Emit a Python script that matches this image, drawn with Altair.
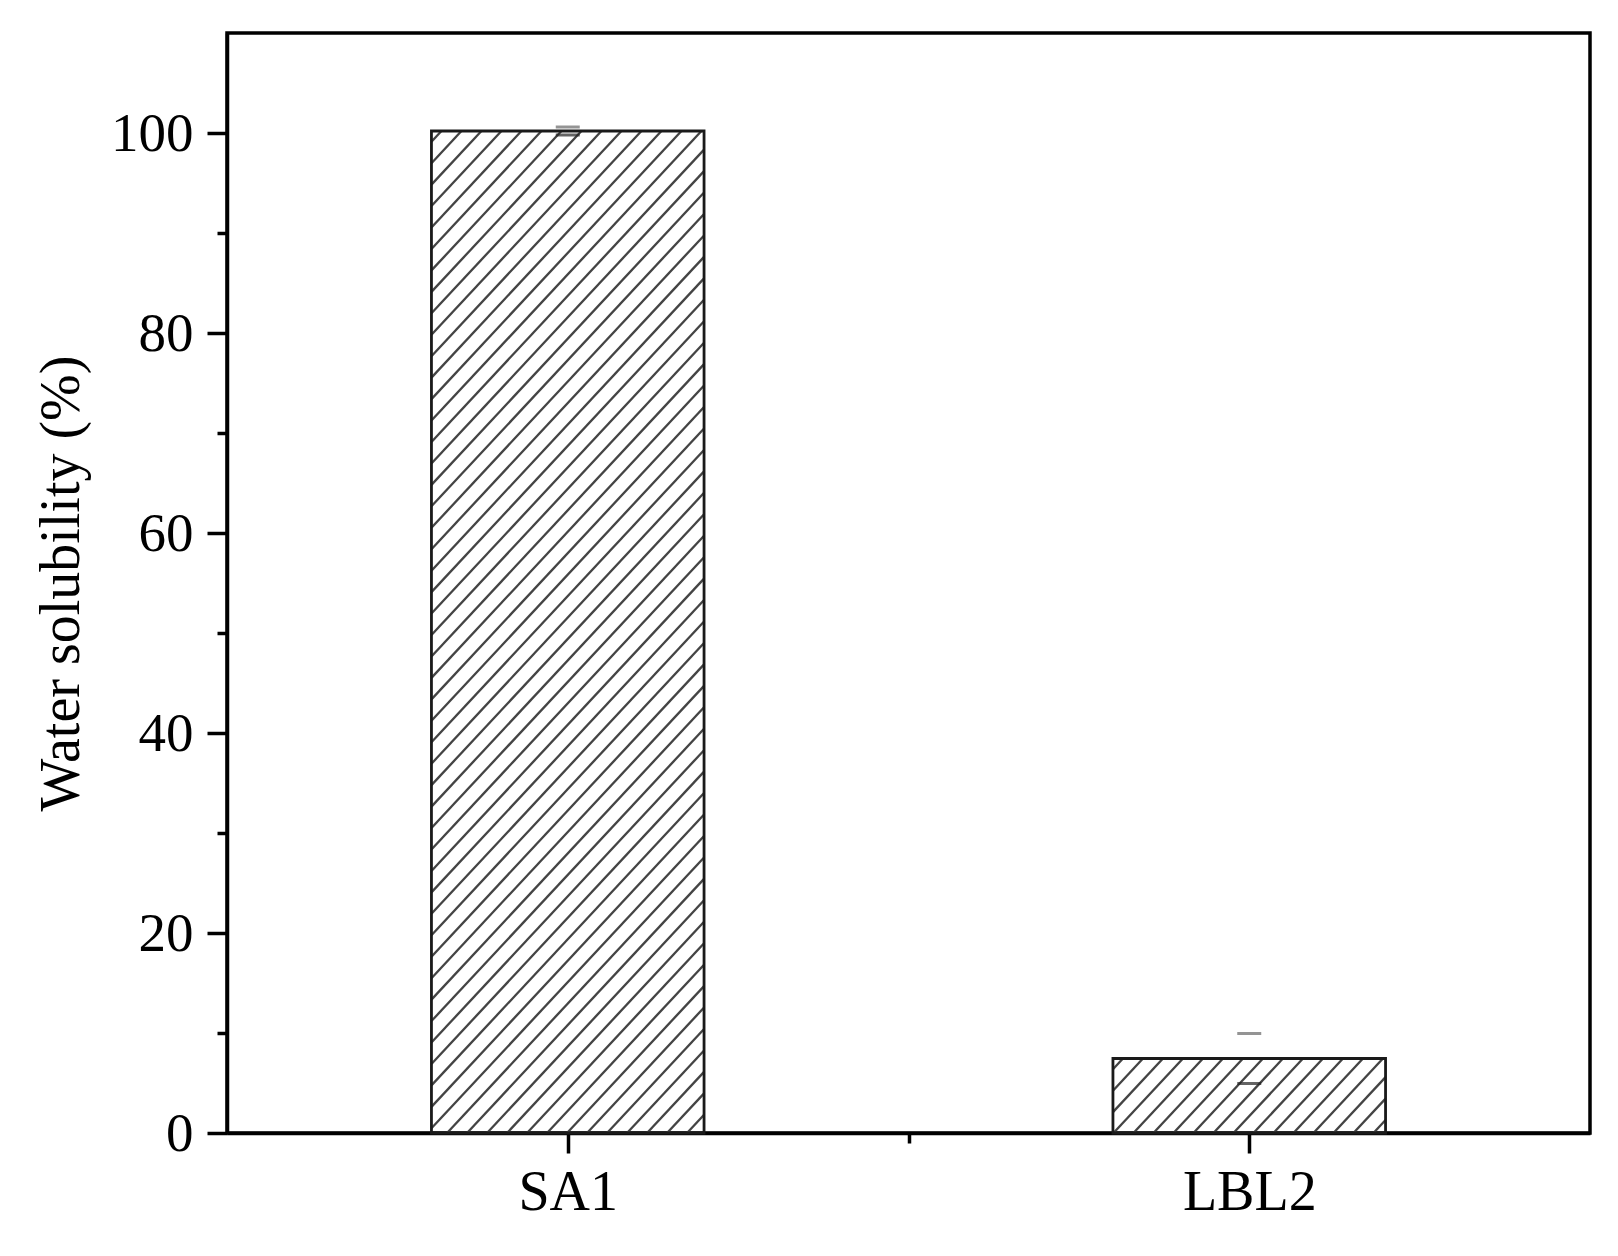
import math
import pandas as pd
import altair as alt

# ---- data ----
categories = ["SA1", "LBL2"]
positions = [1, 2]
values = [100.2, 7.45]
errors = [0.4, 2.5]
y_title = "Water solubility (%)"

# ---- layout constants ----
W, H = 1363, 1100
XDOM = [0.5, 2.5]
YDOM = [0, 110]
HALF = 0.2  # half bar width in x units
kx = W / (XDOM[1] - XDOM[0])
ky = H / (YDOM[1] - YDOM[0])

bar_df = pd.DataFrame({"cat": categories, "pos": positions, "value": values, "err": errors})
bar_df["x0"] = bar_df["pos"] - HALF
bar_df["x1"] = bar_df["pos"] + HALF
bar_df["zero"] = 0.0
bar_df["hi"] = bar_df["value"] + bar_df["err"]
bar_df["lo"] = bar_df["value"] - bar_df["err"]

# hatch pattern ("/" stripes) clipped to each bar, derived from the bar values
tan = math.tan(math.radians(47))
spacing = 20.0
rows = []
for pos, val in zip(positions, values):
    L = (pos - HALF - XDOM[0]) * kx
    R = (pos + HALF - XDOM[0]) * kx
    Ht = val * ky
    c = L - Ht / tan + spacing / 2
    while c < R:
        ylo = max(0.0, (L - c) * tan)
        yhi = min(Ht, (R - c) * tan)
        if yhi > ylo:
            rows.append({
                "hx": XDOM[0] + (c + ylo / tan) / kx,
                "hx2": XDOM[0] + (c + yhi / tan) / kx,
                "hy": ylo / ky,
                "hy2": yhi / ky,
            })
        c += spacing
hatch_df = pd.DataFrame(rows)

xs = alt.Scale(domain=XDOM, nice=False, zero=False)
ys = alt.Scale(domain=YDOM, nice=False)

label_expr_x = " : ".join(
    [f"datum.value == {p} ? '{c}'" for p, c in zip(positions, categories)]
) + " : ''"

xaxis = alt.Axis(
    values=[1, 1.5, 2],
    labelExpr=label_expr_x,
    tickSize={"condition": {"test": "datum.value % 1 === 0", "value": 20}, "value": 10},
    labelPadding=12,
    title=None,
    grid=False,
)
yaxis = alt.Axis(
    values=list(range(0, 101, 10)),
    labelExpr="datum.value % 20 === 0 ? datum.label : ''",
    tickSize={"condition": {"test": "datum.value % 20 === 0", "value": 20}, "value": 10},
    labelPadding=14,
    title=y_title,
    titlePadding=20,
    grid=False,
)


def X(f):
    return alt.X(f, type="quantitative", scale=xs, axis=xaxis)


def Y(f):
    return alt.Y(f, type="quantitative", scale=ys, axis=yaxis)


hatch = alt.Chart(hatch_df).mark_rule(color="#444444", strokeWidth=2.3).encode(
    x=X("hx"), x2="hx2", y=Y("hy"), y2="hy2"
)

outline = alt.Chart(bar_df).mark_rect(
    fillOpacity=0, stroke="#1a1a1a", strokeWidth=2.8
).encode(x=X("x0"), x2="x1", y=Y("value"), y2="zero")

cap_hi = alt.Chart(bar_df).mark_tick(
    orient="horizontal", size=24, thickness=3, color="#666666"
).encode(x=X("pos"), y=Y("hi"))

cap_lo = alt.Chart(bar_df).mark_tick(
    orient="horizontal", size=24, thickness=3, color="#222222"
).encode(x=X("pos"), y=Y("lo"))

chart = (
    alt.layer(hatch, outline, cap_hi, cap_lo)
    .properties(
        width=W,
        height=H,
        autosize=alt.AutoSizeParams(type="none"),
        padding={"left": 219, "top": 25, "right": 20, "bottom": 110},
    )
    .configure_view(stroke="black", strokeWidth=3.5)
    .configure_axis(
        domainColor="black",
        domainWidth=3.5,
        tickColor="black",
        tickWidth=3.5,
        labelFont="Liberation Serif",
        labelFontSize=55,
        labelColor="black",
        titleFont="Liberation Serif",
        titleFontSize=56,
        titleFontWeight="normal",
        titleColor="black",
    )
    .configure_axisX(labelFontSize=56)
)

chart.save("out.html", embed_options={"renderer": "svg", "actions": False})
